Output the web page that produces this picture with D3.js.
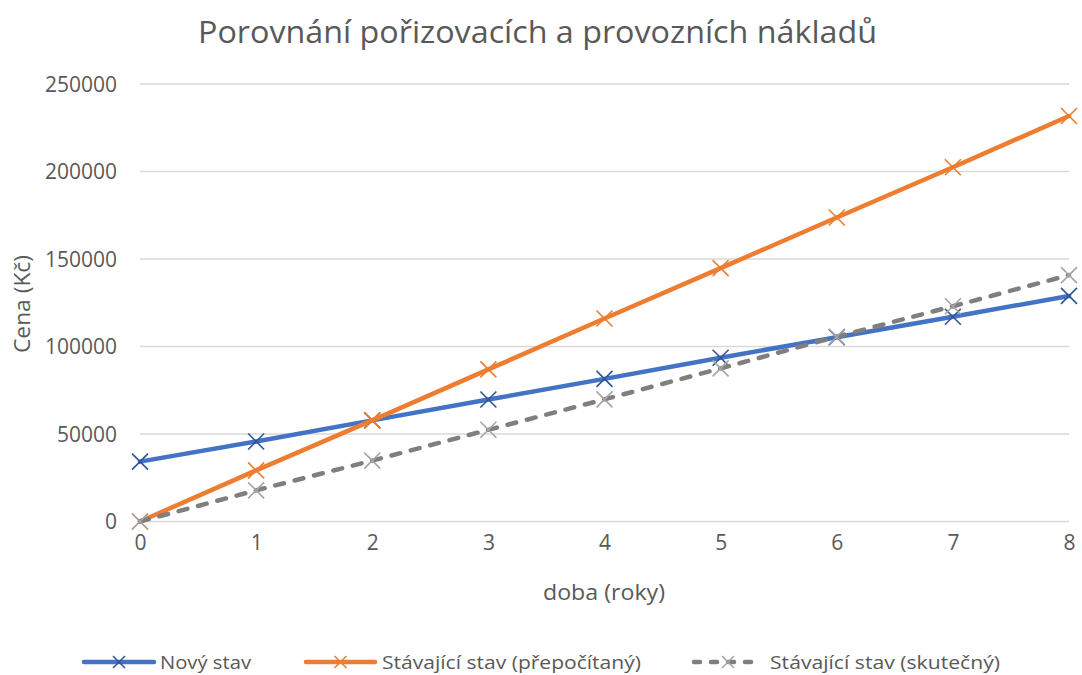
<!DOCTYPE html>
<html><head><meta charset="utf-8">
<script src="https://cdn.jsdelivr.net/npm/d3@7"></script>
<style>body{margin:0;background:#fff;} text{font-family:"Open Sans",sans-serif;fill:#595959;}</style>
</head><body>
<svg id="c" width="1082" height="675"></svg>
<script>
const years = [0,1,2,3,4,5,6,7,8];
const novyStav = [34200,45700,57800,69700,81500,93600,105300,117000,128900];
const prepocitany = [0,29200,57800,86900,116000,144800,173700,202400,231700];
const skutecny = [0,17800,34800,52400,69800,87500,105600,123000,140800];
const yTicks = [0,50000,100000,150000,200000,250000];
const seriesNames = ["Nový stav","Stávající stav (přepočítaný)","Stávající stav (skutečný)"];
const title = "Porovnání pořizovacích a provozních nákladů";
const xTitle = "doba (roky)";
const yTitle = "Cena (Kč)";

const series = [
  {name: seriesNames[0], values: novyStav, color:"#4472C4", marker:"#2F5597", dash:null},
  {name: seriesNames[1], values: prepocitany, color:"#ED7D31", marker:"#ED7D31", dash:null},
  {name: seriesNames[2], values: skutecny, color:"#7F7F7F", marker:"#A5A5A5", dash:"9,11"}
];

const svg = d3.select("#c");
const x = d3.scaleLinear().domain([0,8]).range([140,1069]);
const y = d3.scaleLinear().domain([0,250000]).range([521.5,84]);

function fit(sel, w){ sel.attr("textLength", w).attr("lengthAdjust","spacingAndGlyphs"); }

const t = svg.append("text").attr("x",537.5).attr("y",43).attr("text-anchor","middle")
  .style("font-size","31px").text(title);
fit(t, 679);

// gridlines
svg.append("g").selectAll("line").data(yTicks).join("line")
  .attr("x1",140).attr("x2",1069).attr("y1",d=>y(d)).attr("y2",d=>y(d))
  .attr("stroke","#D9D9D9").attr("stroke-width",1.3);

const yAxis = svg.append("g").attr("transform","translate(140,0)")
  .call(d3.axisLeft(y).tickValues(yTicks).tickSize(0).tickPadding(23).tickFormat(d3.format("d")));
yAxis.select(".domain").remove();
yAxis.selectAll("text").style("font-size","21px").attr("fill","#595959").attr("dy","0.35em");

const xAxis = svg.append("g").attr("transform","translate(0,521.5)")
  .call(d3.axisBottom(x).tickValues(years).tickSize(0).tickPadding(14).tickFormat(d3.format("d")));
xAxis.select(".domain").remove();
xAxis.selectAll("text").style("font-size","21px").attr("fill","#595959");

const xt = svg.append("text").attr("x",604).attr("y",600).attr("text-anchor","middle")
  .style("font-size","22px").text(xTitle);
fit(xt, 122);
const yt = svg.append("text").attr("transform","translate(30,304) rotate(-90)").attr("text-anchor","middle")
  .style("font-size","22px").text(yTitle);
fit(yt, 98);

const line = d3.line().x((d,i)=>x(years[i])).y(d=>y(d));
const ms = 8;
function marker(g, cx, cy, col){
  g.append("path").attr("d",`M${cx-ms},${cy-ms}L${cx+ms},${cy+ms}M${cx-ms},${cy+ms}L${cx+ms},${cy-ms}`)
    .attr("stroke",col).attr("stroke-width",1.6).attr("fill","none");
}
series.forEach(s=>{
  const g = svg.append("g");
  g.append("path").datum(s.values).attr("d",line).attr("fill","none")
    .attr("stroke",s.color).attr("stroke-width",4.5)
    .attr("stroke-linecap","round")
    .attr("stroke-linejoin","round")
    .attr("stroke-dasharray", s.dash);
  s.values.forEach((v,i)=>marker(g, x(years[i]), y(v), s.marker));
});

// legend
const leg = [{x0:84,x1:154,tx:160,tw:91},{x0:306,x1:375,tx:382,tw:259},{x0:694,x1:762,tx:770,tw:230}];
series.forEach((s,i)=>{
  const L = leg[i], ly = 662;
  const g = svg.append("g");
  g.append("line").attr("x1",L.x0).attr("x2",L.x1).attr("y1",ly).attr("y2",ly)
    .attr("stroke",s.color).attr("stroke-width",4.5).attr("stroke-linecap","round")
    .attr("stroke-dasharray", s.dash ? "6,11" : null);
  const cx=(L.x0+L.x1)/2;
  const m=6;
  g.append("path").attr("d",`M${cx-m},${ly-m}L${cx+m},${ly+m}M${cx-m},${ly+m}L${cx+m},${ly-m}`)
    .attr("stroke",s.marker).attr("stroke-width",1.5);
  const tx = g.append("text").attr("x",L.tx).attr("y",ly).attr("dy","0.35em").style("font-size","19px").text(s.name);
  fit(tx, L.tw);
});
</script>
</body></html>
